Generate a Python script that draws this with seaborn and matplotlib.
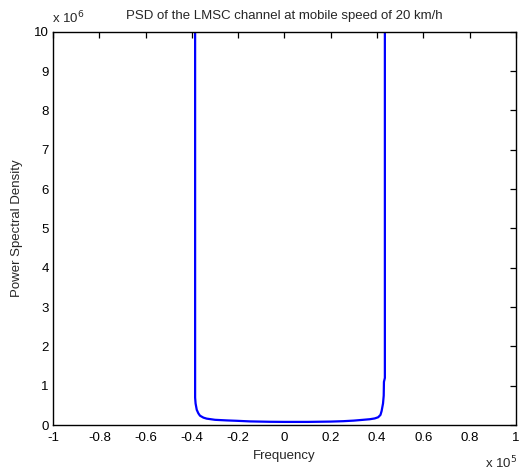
import seaborn as sns
import matplotlib.pyplot as plt
from matplotlib.ticker import FuncFormatter

# PSD curve (freq in Hz, psd linear)
freq = [-0.386e5, -0.386e5, -0.384e5, -0.379e5, -0.372e5, -0.365e5, -0.350e5,
        -0.336e5, -0.300e5, -0.250e5, -0.206e5, -0.150e5, -0.063e5, 0.0,
        0.100e5, 0.200e5, 0.254e5, 0.300e5, 0.340e5, 0.369e5, 0.390e5,
        0.405e5, 0.415e5, 0.420e5, 0.426e5, 0.429e5, 0.430e5, 0.434e5, 0.434e5]
psd = [12.0e6, 0.70e6, 0.55e6, 0.39e6, 0.30e6, 0.24e6, 0.19e6,
       0.165e6, 0.135e6, 0.12e6, 0.11e6, 0.095e6, 0.085e6, 0.082e6,
       0.082e6, 0.09e6, 0.10e6, 0.115e6, 0.135e6, 0.15e6, 0.17e6,
       0.20e6, 0.26e6, 0.36e6, 0.55e6, 0.75e6, 1.10e6, 1.20e6, 12.0e6]

x_ticks = [-1e5, -0.8e5, -0.6e5, -0.4e5, -0.2e5, 0, 0.2e5, 0.4e5, 0.6e5, 0.8e5, 1e5]
y_ticks = [i * 1e6 for i in range(11)]

sns.set_style("white")
plt.rcParams['font.family'] = ['Liberation Sans', 'DejaVu Sans']
fs = 9.5

fig = plt.figure(figsize=(5.2, 4.75), dpi=100)
ax = fig.add_axes([0.102, 0.105, 0.890, 0.828])

sns.lineplot(x=freq, y=psd, sort=False, estimator=None, color=(0, 0, 1),
             linewidth=1.6, ax=ax)

ax.set_xlim(-1e5, 1e5)
ax.set_ylim(0, 10e6)
ax.set_xticks(x_ticks)
ax.set_yticks(y_ticks)
ax.xaxis.set_major_formatter(FuncFormatter(lambda v, p: f"{v / 1e5:g}"))
ax.yaxis.set_major_formatter(FuncFormatter(lambda v, p: f"{v / 1e6:g}"))
ax.tick_params(direction='in', top=True, right=True, length=4, width=0.9,
               labelsize=fs, colors='black')
ax.tick_params(axis='x', pad=5)
ax.tick_params(axis='y', pad=3)
for s in ax.spines.values():
    s.set_color('black')
    s.set_linewidth(1.0)

ax.set_title("PSD of the LMSC channel at mobile speed of 20 km/h", fontsize=fs, pad=9)
ax.set_xlabel("Frequency", fontsize=fs, labelpad=4)
ax.set_ylabel("Power Spectral Density", fontsize=fs, labelpad=8)

fig.text(0.100, 0.945, r"x 10$^6$", fontsize=fs, ha='left', va='bottom')
fig.text(0.995, 0.008, r"x 10$^5$", fontsize=fs, ha='right', va='bottom')

fig.savefig("out.png", dpi=100)
